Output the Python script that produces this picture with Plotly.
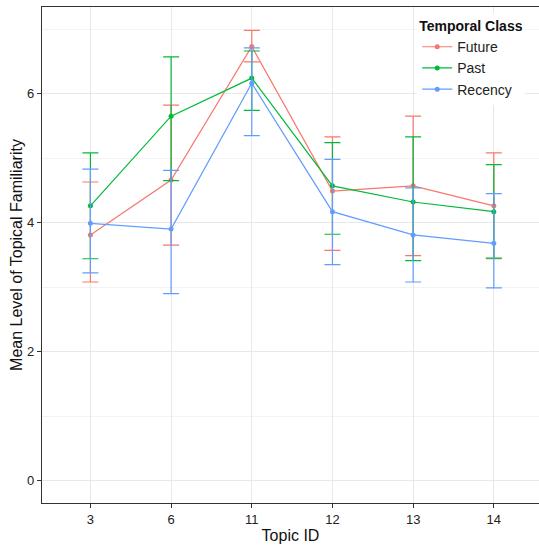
import plotly.graph_objects as go

topics = ["3", "6", "11", "12", "13", "14"]

future_mean = [3.81, 4.66, 6.73, 4.49, 4.57, 4.26]
future_hi   = [4.63, 5.82, 6.98, 5.33, 5.65, 5.08]
future_lo   = [3.08, 3.65, 6.49, 3.57, 3.49, 3.44]

past_mean = [4.26, 5.65, 6.24, 4.57, 4.32, 4.17]
past_hi   = [5.08, 6.57, 6.66, 5.24, 5.33, 4.90]
past_lo   = [3.44, 4.65, 5.74, 3.82, 3.41, 3.45]

recency_mean = [3.99, 3.90, 6.16, 4.17, 3.81, 3.68]
recency_hi   = [4.83, 4.81, 6.71, 4.98, 4.54, 4.45]
recency_lo   = [3.22, 2.90, 5.35, 3.35, 3.08, 2.99]

series = [
    ("Future", future_mean, future_hi, future_lo, "#F8766D"),
    ("Past", past_mean, past_hi, past_lo, "#00BA38"),
    ("Recency", recency_mean, recency_hi, recency_lo, "#619CFF"),
]

fig = go.Figure()
for name, m, hi, lo, col in series:
    fig.add_trace(go.Scatter(
        x=topics, y=m, name=name, mode="lines+markers",
        line=dict(color=col, width=1.2),
        marker=dict(color=col, size=5),
        error_y=dict(type="data", symmetric=False,
                     array=[h - v for h, v in zip(hi, m)],
                     arrayminus=[v - l for v, l in zip(m, lo)],
                     color=col, thickness=1.2, width=8),
        hoverinfo="skip",
    ))

fig.update_layout(
    width=539, height=546,
    margin=dict(l=42, r=0, t=7, b=43),
    paper_bgcolor="white", plot_bgcolor="white",
    font=dict(family="Liberation Sans, Arial, sans-serif", color="#222222", size=13),
    showlegend=True,
    legend=dict(
        title=dict(text="<b>Temporal Class</b>", font=dict(size=14, color="#111111")),
        x=0.755, y=0.988, xanchor="left", yanchor="top",
        bgcolor="white", borderwidth=0,
        font=dict(size=14, color="#222222"),
        itemwidth=30, tracegroupgap=0,
    ),
    xaxis=dict(
        type="category", categoryorder="array", categoryarray=topics,
        range=[-0.6, 5.56],
        title=dict(text="Topic ID", font=dict(size=16, color="#111111"), standoff=4),
        showgrid=True, gridcolor="#E8E8E8", gridwidth=1.3,
        showline=True, linecolor="#333333", linewidth=1.2, mirror=True,
        ticks="outside", ticklen=4, tickcolor="#333333",
        tickfont=dict(size=13, color="#222222"),
        zeroline=False, automargin=False,
    ),
    yaxis=dict(
        range=[-0.345, 7.342],
        tickvals=[0, 2, 4, 6],
        title=dict(text="Mean Level of Topical Familiarity", font=dict(size=16, color="#111111"), standoff=0),
        showgrid=True, gridcolor="#E8E8E8", gridwidth=1.3,
        minor=dict(tickvals=[1, 3, 5, 7], showgrid=True, gridcolor="#F3F3F3", gridwidth=1),
        showline=True, linecolor="#333333", linewidth=1.2,
        ticks="outside", ticklen=4, tickcolor="#333333",
        tickfont=dict(size=13, color="#222222"),
        zeroline=False, automargin=False,
    ),
)

fig.write_html("out.html", config={"displayModeBar": False},
               post_script="document.body.style.margin='0px';")
